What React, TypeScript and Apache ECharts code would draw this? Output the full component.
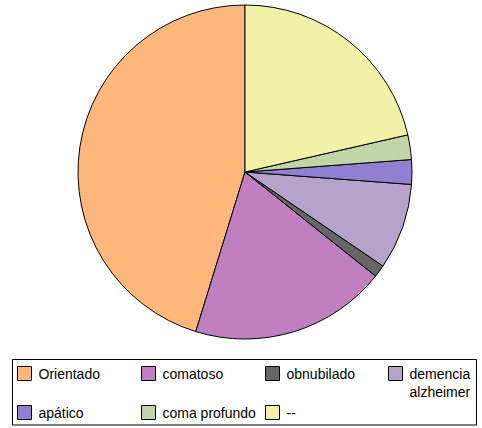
import React, { useEffect, useRef } from "react";
import * as echarts from "echarts";

// Patient state breakdown
const categories = [
  "Orientado",
  "comatoso",
  "obnubilado",
  "demencia alzheimer",
  "apático",
  "coma profundo",
  "--",
];
const values = [38, 16, 1, 7, 2, 2, 18];
const colors = ["#FFB77B", "#C080BF", "#666666", "#B5A3CB", "#9080CF", "#C1D5A8", "#F2F1A8"];

// legend grid: 4 columns, 2 rows
const colX = [17, 141, 265, 388];
const rowY = [373.5, 412.5];
const FONT = "'Liberation Sans', Arial, sans-serif";

export default function App() {
  const ref = useRef<HTMLDivElement>(null);

  useEffect(() => {
    if (!ref.current) return;
    const chart = echarts.init(ref.current, undefined, { renderer: "svg" });

    const legends = categories.map((name, i) => {
      const col = i < 4 ? i : i - 4;
      const row = i < 4 ? 0 : 1;
      const wrap = name === "demencia alzheimer";
      const iconCenter = rowY[row];
      return {
        data: [name],
        orient: "horizontal",
        left: colX[col],
        // a wrapped label is three lines tall, centred on its icon
        top: wrap ? iconCenter - 27 : iconCenter - 9,
        padding: 0,
        itemWidth: 14,
        itemHeight: 14,
        icon: "rect",
        selectedMode: false,
        itemStyle: { borderColor: "#000", borderWidth: 1 },
        formatter: wrap ? "\u00a0\ndemencia\nalzheimer" : "{name}",
        textStyle: {
          fontFamily: FONT,
          fontSize: 14,
          color: "#000",
          lineHeight: 18,
          padding: [0, 0, 0, 2],
        },
      };
    });

    chart.setOption({
      animation: false,
      color: colors,
      legend: legends,
      graphic: [
        {
          type: "rect",
          shape: { x: 12.5, y: 359.5, width: 464, height: 65.5 },
          style: { fill: "none", stroke: "#000", lineWidth: 1 },
          silent: true,
        },
      ],
      series: [
        {
          type: "pie",
          center: [245, 172],
          radius: [0, 167],
          startAngle: 90,
          clockwise: false,
          silent: true,
          label: { show: false },
          labelLine: { show: false },
          itemStyle: { borderColor: "#000", borderWidth: 1 },
          emphasis: { disabled: true },
          data: categories.map((name, i) => ({ name, value: values[i] })),
        },
      ],
    });

    return () => chart.dispose();
  }, []);

  return (
    <div
      ref={ref}
      style={{ position: "fixed", left: 0, top: 0, width: 482, height: 428, background: "#fff" }}
    />
  );
}
